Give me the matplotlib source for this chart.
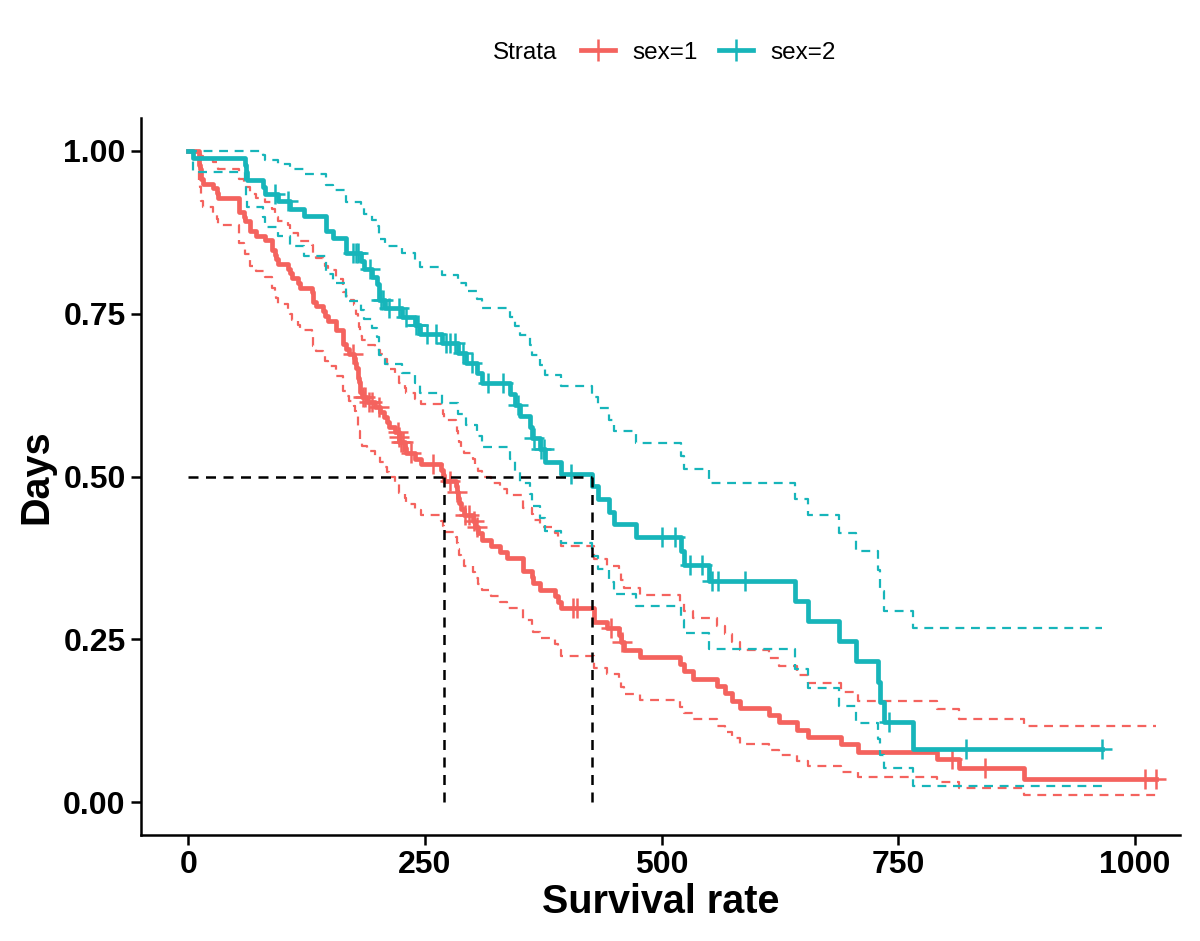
import numpy as np
import matplotlib.pyplot as plt
from matplotlib.lines import Line2D

plt.rcParams['font.family'] = ['Liberation Sans', 'DejaVu Sans']

# Kaplan-Meier table, sex=1
m_time = [11, 12, 13, 15, 26, 30, 31, 53, 54, 59, 60, 65, 71, 81, 88, 92, 93, 95, 105, 107,
          110, 116, 118, 131, 132, 135, 142, 144, 147, 156, 163, 166, 170, 175, 176, 177, 179, 180, 181, 183,
          189, 197, 202, 207, 210, 212, 218, 222, 223, 229, 230, 239, 246, 267, 269, 270, 283, 284, 285, 286,
          288, 291, 301, 303, 306, 310, 320, 329, 337, 353, 363, 364, 371, 387, 390, 394, 428, 429, 442, 455,
          457, 460, 477, 519, 524, 533, 558, 567, 574, 583, 613, 624, 643, 655, 689, 707, 791, 814, 883]
m_risk = [138, 135, 134, 132, 131, 130, 129, 128, 126, 125, 124, 123, 121, 120, 119, 117, 116, 115, 114, 113,
          112, 111, 110, 109, 108, 106, 105, 104, 103, 102, 100, 97, 96, 94, 93, 92, 91, 89, 88, 86,
          83, 80, 78, 77, 76, 75, 74, 72, 70, 67, 66, 64, 63, 61, 60, 59, 57, 56, 54, 53,
          52, 51, 48, 46, 44, 43, 42, 41, 40, 39, 37, 36, 35, 34, 33, 32, 29, 28, 27, 25,
          24, 22, 21, 20, 19, 18, 17, 16, 15, 14, 13, 12, 11, 10, 9, 8, 7, 5, 3]
m_event = [3, 1, 2, 1, 1, 1, 1, 2, 1, 1, 1, 2, 1, 1, 2, 1, 1, 1, 1, 1,
           1, 1, 1, 1, 2, 1, 1, 1, 1, 2, 3, 1, 1, 1, 1, 1, 2, 1, 2, 1,
           1, 1, 1, 1, 1, 1, 1, 1, 1, 1, 1, 1, 1, 1, 1, 1, 1, 1, 1, 1,
           1, 1, 1, 1, 1, 1, 1, 1, 1, 2, 1, 1, 1, 1, 1, 1, 1, 1, 1, 1,
           1, 1, 1, 1, 1, 1, 1, 1, 1, 1, 1, 1, 1, 1, 1, 1, 1, 1, 1]
m_cens = [174, 184, 187, 191, 194, 201, 221, 222, 225, 227, 235, 258, 276, 284, 292, 296, 302, 305,
          406, 411, 446, 458, 807, 841, 1010, 1022]

# Kaplan-Meier table, sex=2
f_time = [5, 60, 61, 62, 79, 81, 95, 107, 122, 145, 153, 166, 167, 182, 186, 194, 199, 201, 208, 226,
          239, 245, 268, 285, 293, 305, 310, 340, 345, 350, 361, 363, 371, 377, 394, 426, 433, 444, 450, 473,
          520, 524, 550, 641, 654, 687, 705, 728, 731, 735, 765]
f_risk = [90, 89, 88, 87, 86, 85, 83, 81, 80, 79, 77, 76, 75, 71, 70, 68, 67, 66, 62, 59,
          57, 54, 51, 47, 45, 43, 42, 39, 38, 36, 35, 34, 32, 29, 28, 26, 25, 24, 23, 22,
          19, 18, 15, 11, 10, 9, 8, 7, 6, 5, 3]
f_event = [1, 1, 1, 1, 1, 1, 1, 1, 1, 2, 1, 1, 1, 1, 1, 1, 1, 2, 1, 1,
           1, 1, 1, 1, 1, 1, 1, 1, 1, 1, 1, 1, 1, 1, 1, 1, 1, 1, 1, 1,
           1, 1, 1, 1, 1, 1, 1, 1, 1, 1, 1]
f_cens = [92, 105, 174, 177, 179, 192, 203, 206, 212, 222, 230, 240, 243, 252, 262, 272, 276, 282,
          290, 300, 317, 332, 348, 365, 373, 376, 404, 500, 514, 530, 543, 553, 559, 588, 740, 821, 965]

medians = [270, 426]
labels = ['sex=1', 'sex=2']
colors = ['#F4635E', '#17B5BA']


def km(time, risk, event, cens):
    t = np.array(time, float)
    n = np.array(risk, float)
    d = np.array(event, float)
    s = np.cumprod(1 - d / n)
    se = np.sqrt(np.cumsum(d / (n * (n - d))))
    lo = s * np.exp(-1.96 * se)
    hi = np.minimum(1, s * np.exp(1.96 * se))
    tend = max(t.max(), max(cens))
    tt = np.concatenate([[0], t, [tend]])
    ss = np.concatenate([[1], s, [s[-1]]])
    ll = np.concatenate([[1], lo, [lo[-1]]])
    hh = np.concatenate([[1], hi, [hi[-1]]])
    c = np.array(cens, float)
    idx = np.searchsorted(tt, c, side='right') - 1
    return tt, ss, ll, hh, c, ss[idx]


fig = plt.figure(figsize=(12, 9.41), dpi=100)
ax = fig.add_axes([0.1175, 0.1126, 0.8655, 0.762])

groups = [(m_time, m_risk, m_event, m_cens), (f_time, f_risk, f_event, f_cens)]
for g, col in zip(groups, colors):
    tt, ss, ll, hh, c, cs = km(*g)
    ax.step(tt, ll, where='post', color=col, lw=1.6, ls=(0, (4, 3)))
    ax.step(tt, hh, where='post', color=col, lw=1.6, ls=(0, (4, 3)))
    ax.step(tt, ss, where='post', color=col, lw=3.4)
    ax.plot(c, cs, '+', color=col, ms=15, mew=1.8)

# median survival lines
ax.plot([0, max(medians)], [0.5, 0.5], color='black', ls=(0, (4, 3)), lw=1.8)
for m in medians:
    ax.plot([m, m], [0, 0.5], color='black', ls=(0, (4, 3)), lw=1.8)

ax.set_xlim(-50, 1047)
ax.set_ylim(-0.05, 1.05)
ax.set_xticks([0, 250, 500, 750, 1000])
ax.set_yticks([0, 0.25, 0.5, 0.75, 1.0])
ax.set_yticklabels(['0.00', '0.25', '0.50', '0.75', '1.00'])
for sp in ['top', 'right']:
    ax.spines[sp].set_visible(False)
for sp in ['left', 'bottom']:
    ax.spines[sp].set_linewidth(1.8)
ax.tick_params(width=1.8, length=7, labelsize=23, pad=4)
for lab in ax.get_xticklabels() + ax.get_yticklabels():
    lab.set_fontweight('bold')
ax.set_xlabel('Survival rate', fontsize=28.5, fontweight='bold', labelpad=2)
ax.set_ylabel('Days', fontsize=28.5, fontweight='bold', labelpad=6)

handles = [Line2D([], [], color=c, lw=3.4, marker='+', ms=16, mew=1.8) for c in colors]
fig.text(0.411, 0.944, 'Strata', fontsize=17.5, va='center')
fig.legend(handles, labels, loc='center left', bbox_to_anchor=(0.466, 0.944), ncol=2,
           frameon=False, fontsize=17.5, handlelength=1.4, columnspacing=0.9, handletextpad=0.7)

fig.savefig('out.png', dpi=100)
